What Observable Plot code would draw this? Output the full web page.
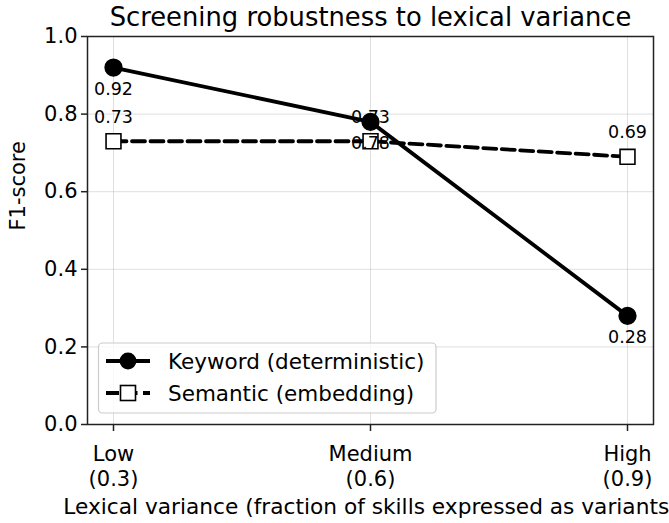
<!DOCTYPE html>
<html>
<head>
<meta charset="utf-8">
<script src="https://cdn.jsdelivr.net/npm/d3@7"></script>
<script src="https://cdn.jsdelivr.net/npm/@observablehq/plot@0.6"></script>
<style>
  html, body { margin: 0; padding: 0; background: white; overflow: hidden; }
  #chart svg { display: block; font-family: "DejaVu Sans", sans-serif; }
</style>
</head>
<body>
<div id="chart"></div>
<script>
const categories = ["Low\n(0.3)", "Medium\n(0.6)", "High\n(0.9)"];
const keywordF1 = [0.92, 0.78, 0.28];
const semanticF1 = [0.73, 0.73, 0.69];
const seriesNames = ["Keyword (deterministic)", "Semantic (embedding)"];
const yTicks = [0, 0.2, 0.4, 0.6, 0.8, 1.0];
const titleText = "Screening robustness to lexical variance";
const xLabel = "Lexical variance (fraction of skills expressed as variants)";
const yLabel = "F1-score";

const keyword = categories.map((c, i) => ({cat: c, v: keywordF1[i]}));
const semantic = categories.map((c, i) => ({cat: c, v: semanticF1[i]}));

const font = "DejaVu Sans, sans-serif";
const dash = "13,5.5";

const plot = Plot.plot({
  width: 669,
  height: 523,
  marginLeft: 87,
  marginRight: 16,
  marginTop: 36,
  marginBottom: 99,
  style: {fontFamily: font, background: "white", overflow: "hidden"},
  x: {type: "point", domain: categories, padding: 0.1, align: 0.5},
  y: {domain: [0, 1]},
  marks: [
    Plot.gridX(categories, {stroke: "#b0b0b0", strokeOpacity: 0.4, strokeWidth: 1}),
    Plot.gridY(yTicks, {stroke: "#b0b0b0", strokeOpacity: 0.4, strokeWidth: 1}),
    Plot.axisY(yTicks, {tickSize: 6, tickPadding: 4, fontSize: 21, tickFormat: d => d.toFixed(1), label: null, stroke: "#222", strokeWidth: 1.5, fill: "#000"}),
    Plot.axisX(categories, {tickSize: 7, tickPadding: 11, fontSize: 21, lineHeight: 1.22, label: null, stroke: "#222", strokeWidth: 1.5, fill: "#000"}),
    Plot.line(keyword, {x: "cat", y: "v", stroke: "black", strokeWidth: 3.8}),
    Plot.line(semantic, {x: "cat", y: "v", stroke: "black", strokeWidth: 3.8, strokeDasharray: dash}),
    Plot.dot(keyword, {x: "cat", y: "v", r: 8.4, fill: "black", stroke: "black"}),
    Plot.dot(semantic, {x: "cat", y: "v", symbol: "square", r: 8.4, fill: "white", stroke: "black", strokeWidth: 1.6}),
    Plot.text(keyword, {x: "cat", y: "v", text: d => d.v.toFixed(2), dy: 22, fontSize: 17.5, fill: "black"}),
    Plot.text(semantic, {x: "cat", y: "v", text: d => d.v.toFixed(2), dy: -24, fontSize: 17.5, fill: "black"}),
    Plot.frame({stroke: "#222", strokeWidth: 1.5}),
    Plot.text([titleText], {frameAnchor: "top", lineAnchor: "middle", dy: -19, fontSize: 25.8, fill: "black"}),
    Plot.text([xLabel], {frameAnchor: "bottom", lineAnchor: "middle", dy: 83, fontSize: 21.7, fill: "black"}),
    Plot.text([yLabel], {frameAnchor: "left", lineAnchor: "middle", dx: -69, rotate: -90, fontSize: 21, fill: "black"})
  ]
});

document.getElementById("chart").appendChild(plot);

// Legend inside the plot (lower-left), drawn with d3
const svg = d3.select(plot);
const lg = svg.append("g").attr("font-family", font).attr("text-anchor", "start");
lg.append("rect").attr("x", 98.5).attr("y", 343).attr("width", 337.5).attr("height", 70)
  .attr("rx", 4).attr("fill", "white").attr("fill-opacity", 0.8)
  .attr("stroke", "#cccccc").attr("stroke-width", 1.2);
const rows = [
  {name: seriesNames[0], y: 361, dash: null, sym: "circle"},
  {name: seriesNames[1], y: 393, dash: dash, sym: "square"}
];
rows.forEach(r => {
  lg.append("line").attr("x1", 106).attr("x2", 150).attr("y1", r.y).attr("y2", r.y)
    .attr("stroke", "black").attr("stroke-width", 3.8)
    .attr("stroke-dasharray", r.dash);
  if (r.sym === "circle") {
    lg.append("circle").attr("cx", 128).attr("cy", r.y).attr("r", 8.4).attr("fill", "black");
  } else {
    lg.append("rect").attr("x", 128 - 7.5).attr("y", r.y - 7.5).attr("width", 15).attr("height", 15)
      .attr("fill", "white").attr("stroke", "black").attr("stroke-width", 1.6);
  }
  lg.append("text").attr("x", 168).attr("y", r.y).attr("dy", "0.35em")
    .attr("text-anchor", "start")
    .attr("font-size", 21.5).attr("fill", "black").text(r.name);
});
</script>
</body>
</html>
